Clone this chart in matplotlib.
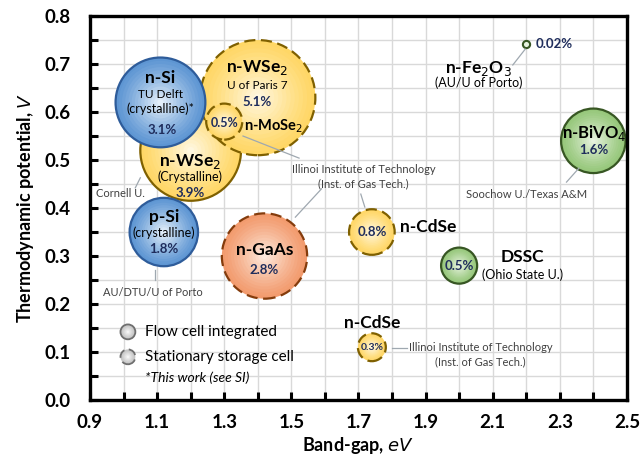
import numpy as np
import matplotlib
matplotlib.use("Agg")
import matplotlib.pyplot as plt
from matplotlib.colors import to_rgb

plt.rcParams['font.family'] = ['Lato', 'DejaVu Sans']

# ---- data ----
names = ["n-WSe2 (Crystalline)", "n-WSe2 (Paris 7)", "n-MoSe2", "n-Si", "p-Si",
         "n-GaAs", "n-CdSe (0.8)", "n-CdSe (0.3)", "DSSC", "n-BiVO4", "n-Fe2O3"]
band_gap = [1.20, 1.40, 1.30, 1.11, 1.12, 1.42, 1.74, 1.74, 2.00, 2.40, 2.20]
potential = [0.52, 0.63, 0.58, 0.62, 0.35, 0.30, 0.35, 0.11, 0.28, 0.54, 0.742]
efficiency = [3.9, 5.1, 0.5, 3.1, 1.8, 2.8, 0.8, 0.3, 0.5, 1.6, 0.02]
family = ["yellow", "yellow", "yellow", "blue", "blue", "orange", "yellow", "yellow",
          "green", "green", "green"]
dashed = [False, True, True, False, False, True, True, True, False, False, False]

legend_x = [1.013, 1.013]
legend_y = [0.142, 0.090]
legend_dashed = [False, True]

palette = {
    "blue":   ("#2E5C9A", "#5E96D3", "#E3EEF9"),
    "yellow": ("#7F6000", "#FFD766", "#FFF7DF"),
    "orange": ("#843C0C", "#F29B6E", "#FDE8DC"),
    "green":  ("#375623", "#96C77A", "#E6F2DE"),
    "gray":   ("#6F6F6F", "#C4C4C4", "#F5F5F5"),
}

SCALE = 1348.0  # marker area (pt^2) per % efficiency

fig = plt.figure(figsize=(6.41, 4.63), dpi=100)
ax = fig.add_axes([0.1404, 0.136, 0.8376, 0.8294])
ax.set_xlim(0.9, 2.5)
ax.set_ylim(0.0, 0.8)


def bubble(x, y, s, fam, dash, z, lw=1.6, n=14):
    edge, outer, inner = palette[fam]
    o = np.array(to_rgb(outer)); i = np.array(to_rgb(inner))
    for k in range(n):
        f = 1 - k / n
        t = (k / (n - 1)) ** 1.2
        c = o * (1 - t) + i * t
        sc = ax.scatter([x], [y], s=s * f * f, color=c, edgecolors='none', zorder=z)
        sc.set_snap(False)
    ls = (0, (5, 2.5)) if dash else 'solid'
    sc = ax.scatter([x], [y], s=s, facecolors='none', edgecolors=edge,
                    linewidths=lw, linestyles=[ls], zorder=z + 0.5)
    sc.set_snap(False)


for j in range(len(names) - 1):
    bubble(band_gap[j], potential[j], efficiency[j] * SCALE, family[j], dashed[j], 3 + j)
# Fe2O3: tiny ring
fe = ax.scatter([band_gap[-1]], [potential[-1]], s=max(efficiency[-1] * SCALE, 20),
                facecolors='#E6F2DE', edgecolors='#375623', linewidths=1.5, zorder=20)
fe.set_snap(False)

for j in range(2):
    bubble(legend_x[j], legend_y[j], 115, "gray", legend_dashed[j], 30, lw=1.3, n=6)

# ---- grid / axes ----
ax.set_xticks(np.arange(0.9, 2.501, 0.2))
ax.set_xticks(np.arange(1.0, 2.45, 0.2), minor=True)
ax.set_yticks(np.arange(0.0, 0.801, 0.1))
ax.set_yticks(np.arange(0.05, 0.8, 0.1), minor=True)
ax.set_xticklabels([f"{v:.1f}" for v in np.arange(0.9, 2.501, 0.2)])
ax.set_yticklabels([f"{v:.1f}" for v in np.arange(0.0, 0.801, 0.1)])
ax.grid(True, which='both', color='#D9D9D9', linewidth=1.0, zorder=0)
ax.set_axisbelow(True)
ax.tick_params(which='both', direction='in', length=6, width=2.2, color='black',
               top=False, right=False)
ax.tick_params(axis='both', which='major', labelsize=13.5)
ax.tick_params(axis='y', which='major', pad=14)
ax.tick_params(axis='x', which='major', pad=10)
for lab in ax.get_xticklabels() + ax.get_yticklabels():
    lab.set_fontweight('bold')
for sp in ax.spines.values():
    sp.set_linewidth(2.4)
    sp.set_zorder(50)

ax.set_xlabel("Band-gap, $\\mathbf{\\mathit{eV}}$", fontsize=13, fontweight='bold', labelpad=3)
ax.set_ylabel("Thermodynamic potential, $\\mathbf{\\mathit{V}}$", fontsize=13,
              fontweight='bold', labelpad=6)

NAVY = "#1F2D5C"
GRAYTXT = "#404040"
Z = 60


def t(x, y, s, size, bold=False, color='black', ha='center', style='normal'):
    ax.text(x, y, s, fontsize=size, fontweight='bold' if bold else 'normal',
            color=color, ha=ha, va='center', style=style, zorder=Z)


def lead(x0, y0, x1, y1):
    ax.plot([x0, x1], [y0, y1], color='#9FA8B0', lw=0.9, zorder=Z)


# n-Si
t(1.11, 0.671, "n-Si", 12.5, True)
t(1.11, 0.637, "TU Delft", 8.5)
t(1.11, 0.606, "(crystalline)*", 9)
t(1.115, 0.562, "3.1%", 9.5, True, NAVY)
# n-WSe2 Paris
t(1.398, 0.692, "n-WSe$_2$", 12.5, True)
t(1.398, 0.656, "U of Paris 7", 8.5)
t(1.398, 0.621, "5.1%", 9.5, True, NAVY)
# n-MoSe2
t(1.300, 0.577, "0.5%", 9, True, NAVY)
t(1.448, 0.571, "n-MoSe$_2$", 10.5, True)
# n-WSe2 crystalline
t(1.199, 0.496, "n-WSe$_2$", 12.5, True)
t(1.199, 0.465, "(Crystalline)", 9)
t(1.199, 0.431, "3.9%", 9.5, True, NAVY)
t(0.99, 0.431, "Cornell U.", 8, color=GRAYTXT)
lead(1.035, 0.442, 1.05, 0.463)
# p-Si
t(1.12, 0.381, "p-Si", 12.5, True)
t(1.12, 0.348, "(crystalline)", 9)
t(1.12, 0.315, "1.8%", 9.5, True, NAVY)
t(1.088, 0.223, "AU/DTU/U of Porto", 8, color=GRAYTXT)
lead(1.093, 0.250, 1.093, 0.271)
# n-GaAs
t(1.42, 0.313, "n-GaAs", 12.5, True)
t(1.42, 0.271, "2.8%", 9.5, True, NAVY)
# Illinois (top)
t(1.715, 0.481, "Illinoi Institute of Technology", 8, color=GRAYTXT)
t(1.715, 0.450, "(Inst. of Gas Tech.)", 8, color=GRAYTXT)
lead(1.356, 0.550, 1.523, 0.504)
lead(1.590, 0.440, 1.512, 0.381)
lead(1.707, 0.429, 1.719, 0.402)
# n-CdSe 0.8
t(1.74, 0.35, "0.8%", 9.5, True, NAVY)
t(1.825, 0.36, "n-CdSe", 12.5, True, ha='left')
# DSSC
t(2.00, 0.28, "0.5%", 9.5, True, NAVY)
t(2.19, 0.298, "DSSC", 12.5, True)
t(2.19, 0.262, "(Ohio State U.)", 9)
# n-BiVO4
t(2.402, 0.556, "n-BiVO$_4$", 12, True)
t(2.402, 0.520, "1.6%", 9.5, True, NAVY)
t(2.20, 0.429, "Soochow U./Texas A&M", 8, color=GRAYTXT)
lead(2.320, 0.454, 2.357, 0.483)
# n-Fe2O3
t(2.228, 0.742, "0.02%", 9.5, True, NAVY, ha='left')
t(2.058, 0.690, "n-Fe$_2$O$_3$", 12.5, True)
t(2.058, 0.660, "(AU/U of Porto)", 9)
lead(2.160, 0.698, 2.197, 0.731)
# n-CdSe 0.3
t(1.742, 0.160, "n-CdSe", 12.5, True)
t(1.74, 0.110, "0.3%", 7.5, True, NAVY)
t(2.064, 0.110, "Illinoi Institute of Technology", 8, color=GRAYTXT)
t(2.064, 0.079, "(Inst. of Gas Tech.)", 8, color=GRAYTXT)
lead(1.800, 0.108, 1.845, 0.108)
# legend text
t(1.064, 0.142, "Flow cell integrated", 11, ha='left')
t(1.064, 0.090, "Stationary storage cell", 11, ha='left')
t(1.064, 0.046, "*This work (see SI)", 10, ha='left', style='italic')

fig.savefig("out.png", dpi=100)
